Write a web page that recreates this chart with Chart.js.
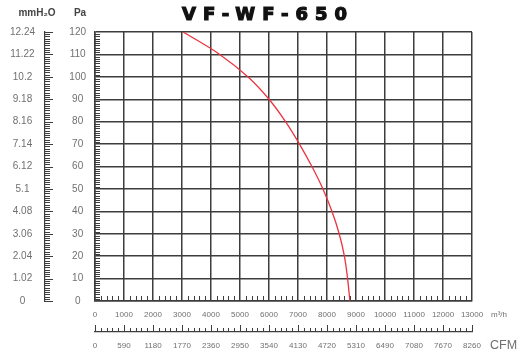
<!DOCTYPE html>
<html>
<head>
<meta charset="utf-8">
<script src="https://cdn.jsdelivr.net/npm/chart.js@4"></script>
<style>
  html, body { margin: 0; padding: 0; background: #fff; }
</style>
</head>
<body>
<canvas id="fanChart" width="523" height="354"></canvas>
<script>
// fan curve (m3/h vs Pa)
const flowRate = [3040, 4300, 5270, 6000, 6570, 7050, 7480, 7860, 8170, 8420, 8600, 8710, 8790];
const pressure = [120, 110, 100, 90, 80, 70, 60, 50, 40, 30, 20, 10, 0];

const flowTicks = [0, 1000, 2000, 3000, 4000, 5000, 6000, 7000, 8000, 9000, 10000, 11000, 12000, 13000];
const cfmLabels = ['0', '590', '1180', '1770', '2360', '2950', '3540', '4130', '4720', '5310', '6490', '7080', '7670', '8260'];
const paTicks = [0, 10, 20, 30, 40, 50, 60, 70, 80, 90, 100, 110, 120];
const mmTicks = [0, 1.02, 2.04, 3.06, 4.08, 5.1, 6.12, 7.14, 8.16, 9.18, 10.2, 11.22, 12.24];
const mmLabels = ['0', '1.02', '2.04', '3.06', '4.08', '5.1', '6.12', '7.14', '8.16', '9.18', '10.2', '11.22', '12.24'];

const gridColor = '#3d3d3d';
const labelColor = '#707070';
const fontFamily = '"Liberation Sans", Arial, sans-serif';

// rulers, minor ticks and the free texts
const decor = {
    id: 'decor',
    afterDraw(chart) {
        const { ctx, chartArea: a } = chart;
        const { x, x2, y2 } = chart.scales;
        ctx.save();
        ctx.strokeStyle = gridColor;
        ctx.lineWidth = 1;
        ctx.beginPath();
        for (let p = 0; p <= 120; p++) {
            const py = Math.round(y2.getPixelForValue(p * 0.102)) + 0.5;
            const len = p % 10 === 0 ? 8 : 5;
            ctx.moveTo(y2.right, py);
            ctx.lineTo(y2.right + len, py);
            if (p % 10 !== 0) {
                ctx.moveTo(a.left, py);
                ctx.lineTo(a.left + 5, py);
            }
        }
        for (let f = 0; f <= 13000; f += 200) {
            const px = Math.round(x.getPixelForValue(f)) + 0.5;
            if (f % 1000 !== 0) {
                ctx.moveTo(px, a.bottom);
                ctx.lineTo(px, a.bottom - 5);
            }
            const len = f % 1000 === 0 ? 7 : 4;
            ctx.moveTo(px, x2.top);
            ctx.lineTo(px, x2.top - len);
        }
        ctx.stroke();

        // title, a bit heavier than plain bold
        ctx.fillStyle = '#111';
        ctx.strokeStyle = '#111';
        ctx.lineWidth = 1.2;
        ctx.font = 'bold 18px "DejaVu Sans", sans-serif';
        ctx.textAlign = 'left';
        ctx.textBaseline = 'alphabetic';
        ctx.letterSpacing = '7px';
        ctx.fillText('VF-WF-650', 182, 20);
        ctx.strokeText('VF-WF-650', 182, 20);
        ctx.letterSpacing = '0px';

        ctx.fillStyle = '#444';
        ctx.font = 'bold 10px ' + fontFamily;
        ctx.textAlign = 'center';
        ctx.textBaseline = 'middle';
        ctx.fillText('mmH\u2082O', 37, 13);
        ctx.fillText('Pa', 80, 13);

        ctx.fillStyle = labelColor;
        ctx.textAlign = 'left';
        ctx.font = '8px ' + fontFamily;
        ctx.fillText('m\u00b3/h', 491, 315);
        ctx.font = '12.5px ' + fontFamily;
        ctx.fillText('CFM', 490, 346);
        ctx.restore();
    }
};

const fanChart = new Chart(document.getElementById('fanChart'), {
    type: 'line',
    data: {
        datasets: [{
            label: 'VF-WF-650',
            data: flowRate.map((f, i) => ({ x: f, y: pressure[i] })),
            borderColor: '#ec3440',
            borderWidth: 1.3,
            pointRadius: 0,
            tension: 0.4,
            fill: false,
            xAxisID: 'x',
            yAxisID: 'y'
        }]
    },
    options: {
        responsive: false,
        animation: false,
        layout: { padding: { top: 32, right: 51, left: 0, bottom: 0 } },
        plugins: {
            legend: { display: false },
            tooltip: { enabled: false }
        },
        scales: {
            x: {
                type: 'linear',
                position: 'bottom',
                weight: 0,
                min: 0,
                max: 13000,
                afterBuildTicks: s => { s.ticks = flowTicks.map(v => ({ value: v })); },
                afterFit: s => { s.height = 31; },
                grid: { color: gridColor, lineWidth: 1.5, drawTicks: false },
                border: { color: gridColor, width: 1.5 },
                ticks: {
                    padding: 9,
                    color: labelColor,
                    font: { size: 8, family: fontFamily },
                    maxRotation: 0,
                    autoSkip: false,
                    callback: v => String(v)
                }
            },
            x2: {
                type: 'linear',
                position: 'bottom',
                weight: 1,
                min: 0,
                max: 13000,
                afterBuildTicks: s => { s.ticks = flowTicks.map(v => ({ value: v })); },
                afterFit: s => { s.height = 22; },
                grid: { drawOnChartArea: false, drawTicks: false },
                border: { color: gridColor, width: 1.2 },
                ticks: {
                    padding: 9,
                    color: labelColor,
                    font: { size: 8, family: fontFamily },
                    maxRotation: 0,
                    autoSkip: false,
                    callback: (v, i) => cfmLabels[i]
                }
            },
            y: {
                type: 'linear',
                position: 'left',
                weight: 0,
                min: 0,
                max: 120,
                afterBuildTicks: s => { s.ticks = paTicks.map(v => ({ value: v })); },
                afterFit: s => { s.width = 50; },
                grid: { color: gridColor, lineWidth: 1.5, drawTicks: false },
                border: { color: gridColor, width: 1.5 },
                ticks: {
                    crossAlign: 'center',
                    padding: 9,
                    color: labelColor,
                    font: { size: 10, family: fontFamily },
                    callback: v => String(v)
                }
            },
            y2: {
                type: 'linear',
                position: 'left',
                weight: 1,
                min: 0,
                max: 12.24,
                afterBuildTicks: s => { s.ticks = mmTicks.map(v => ({ value: v })); },
                afterFit: s => { s.width = 45; },
                grid: { drawOnChartArea: false, drawTicks: false },
                border: { color: gridColor, width: 1.2 },
                ticks: {
                    crossAlign: 'center',
                    padding: 10,
                    color: labelColor,
                    font: { size: 10, family: fontFamily },
                    callback: (v, i) => mmLabels[i]
                }
            }
        }
    },
    plugins: [decor]
});
</script>
</body>
</html>
